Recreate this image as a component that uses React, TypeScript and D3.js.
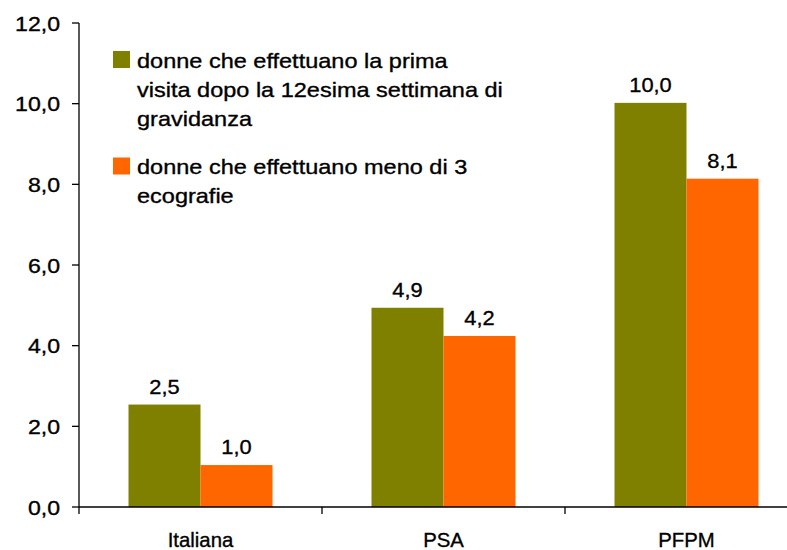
import React from "react";
import * as d3 from "d3";

const categories = ["Italiana", "PSA", "PFPM"];
const seriesNames = [
  ["donne che effettuano la prima", "visita dopo la 12esima settimana di", "gravidanza"],
  ["donne che effettuano meno di 3", "ecografie"],
];
const seriesColors = ["#808000", "#FF6600"];
const firstVisitLate = [2.54, 4.94, 10.02];
const fewUltrasounds = [1.04, 4.24, 8.14];
const yTicks = [0, 2, 4, 6, 8, 10, 12];

const W = 787;
const H = 550;
const FONT = "'Liberation Sans', Arial, sans-serif";

const fmt = (v: number) => v.toFixed(1).replace(".", ",");

function SText(props: {
  x: number;
  y: number;
  sx?: number;
  anchor?: "start" | "middle" | "end";
  size?: number;
  children: React.ReactNode;
}) {
  const { x, y, sx = 1, anchor = "start", size = 21, children } = props;
  return (
    <text
      transform={`translate(${x},${y}) scale(${sx},1)`}
      textAnchor={anchor}
      fontFamily={FONT}
      fontSize={size}
      fill="#000"
      stroke="#000"
      strokeWidth={0.35}
    >
      {children}
    </text>
  );
}

export default function App() {
  const x0 = 79;
  const x1 = 808;
  const yBase = 507;
  const yTop = 23;

  const xScale = d3.scaleBand<string>().domain(categories).range([x0, x1]).paddingInner(0).paddingOuter(0);
  const inner = d3
    .scaleBand<string>()
    .domain(["a", "b"])
    .range([0, xScale.bandwidth()])
    .paddingInner(0)
    .paddingOuter(0.6875);
  const yScale = d3.scaleLinear().domain([0, 12]).range([yBase, yTop]);

  const series = [firstVisitLate, fewUltrasounds];
  const keys = ["a", "b"];

  const boundaries = categories.map((c) => xScale(c) as number).concat([x1]);

  return (
    <svg
      width={W}
      height={H}
      viewBox={`0 0 ${W} ${H}`}
      style={{ position: "absolute", left: 0, top: 0, background: "#fff" }}
    >
      <rect x={0} y={0} width={W} height={H} fill="#fff" />
      {/* bars */}
      {series.map((vals, si) =>
        vals.map((v, ci) => {
          const bx = (xScale(categories[ci]) as number) + (inner(keys[si]) as number);
          const by = yScale(v);
          return (
            <rect
              key={`b-${si}-${ci}`}
              x={bx}
              y={by}
              width={inner.bandwidth()}
              height={yBase - by}
              fill={seriesColors[si]}
            />
          );
        })
      )}
      {/* data labels */}
      {series.map((vals, si) =>
        vals.map((v, ci) => {
          const cx = (xScale(categories[ci]) as number) + (inner(keys[si]) as number) + inner.bandwidth() / 2;
          return (
            <SText key={`l-${si}-${ci}`} x={cx} y={yScale(v) - 11} anchor="middle" sx={1.04}>
              {fmt(v)}
            </SText>
          );
        })
      )}
      {/* y axis */}
      <line x1={x0} x2={x0} y1={yTop} y2={yBase} stroke="#000" strokeWidth={1.3} />
      {yTicks.map((t) => (
        <g key={`yt-${t}`}>
          <line x1={72} x2={x0} y1={yScale(t)} y2={yScale(t)} stroke="#000" strokeWidth={1.3} />
          <SText x={60} y={yScale(t) + 7.5} anchor="end" sx={1.1}>
            {fmt(t)}
          </SText>
        </g>
      ))}
      {/* x axis */}
      <line x1={x0} x2={x1} y1={yBase} y2={yBase} stroke="#000" strokeWidth={1.3} />
      {boundaries.map((b, i) => (
        <line key={`xt-${i}`} x1={b} x2={b} y1={yBase} y2={yBase + 7} stroke="#000" strokeWidth={1.3} />
      ))}
      {categories.map((c) => (
        <SText key={`c-${c}`} x={(xScale(c) as number) + xScale.bandwidth() / 2} y={546.5} anchor="middle" sx={0.97}>
          {c}
        </SText>
      ))}
      {/* legend */}
      {seriesNames.map((lines, si) => {
        const top = si === 0 ? 51 : 157.5;
        const base = si === 0 ? 68 : 174;
        return (
          <g key={`lg-${si}`}>
            <rect x={113} y={top} width={17} height={17} fill={seriesColors[si]} />
            {lines.map((ln, li) => (
              <SText key={`lgt-${si}-${li}`} x={137} y={base + li * 29} sx={1.12}>
                {ln}
              </SText>
            ))}
          </g>
        );
      })}
    </svg>
  );
}
